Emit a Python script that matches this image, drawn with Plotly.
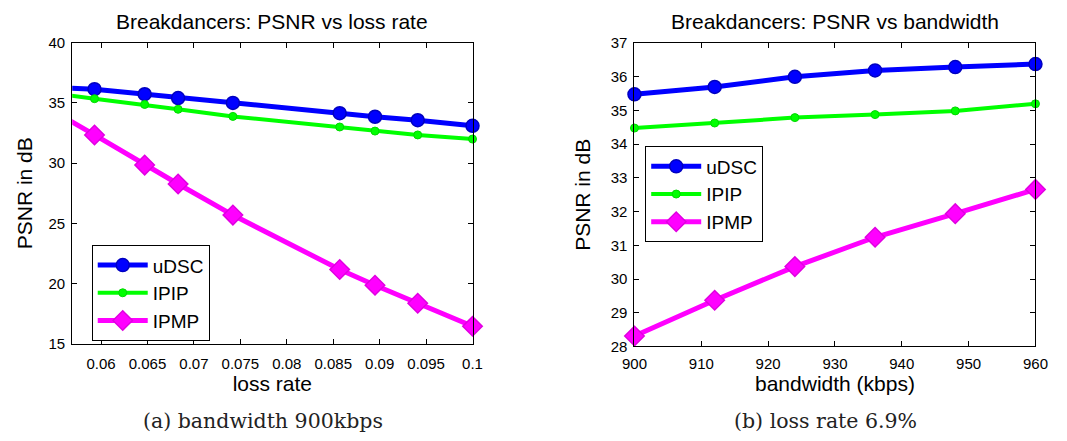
import plotly.graph_objects as go

# ---------------- data: (a) PSNR vs loss rate ----------------
loss_rate = [0.0593, 0.0647, 0.0683, 0.0742, 0.0857, 0.0895, 0.0941, 0.1]
udsc_loss = [36.14, 35.72, 35.40, 35.00, 34.15, 33.85, 33.56, 33.10]
ipip_loss = [35.35, 34.87, 34.47, 33.88, 33.00, 32.66, 32.34, 32.00]
ipmp_loss = [32.34, 29.84, 28.27, 25.69, 21.17, 19.86, 18.37, 16.46]
# a point just left of the visible x-range (the lines enter from the axis edge)
lead_rate = 0.0545
lead_udsc, lead_ipip, lead_ipmp = 36.29, 35.83, 34.5

loss_ticks = [0.06, 0.065, 0.07, 0.075, 0.08, 0.085, 0.09, 0.095, 0.1]
loss_tick_text = ["0.06", "0.065", "0.07", "0.075", "0.08", "0.085", "0.09", "0.095", "0.1"]
psnr_ticks_a = [15, 20, 25, 30, 35, 40]

# ---------------- data: (b) PSNR vs bandwidth ----------------
bandwidth = [900, 912, 924, 936, 948, 960]
udsc_bw = [35.48, 35.70, 36.00, 36.19, 36.29, 36.38]
ipip_bw = [34.48, 34.63, 34.79, 34.88, 34.99, 35.20]
ipmp_bw = [28.31, 29.37, 30.37, 31.24, 31.94, 32.66]

bw_ticks = [900, 910, 920, 930, 940, 950, 960]
psnr_ticks_b = [28, 29, 30, 31, 32, 33, 34, 35, 36, 37]

series_names = ["uDSC", "IPIP", "IPMP"]

# ---------------- styles ----------------
W, H = 1067, 441
FONT = "Liberation Sans, Arial, Helvetica, sans-serif"
BLUE, GREEN, MAGENTA = "#0000ff", "#00ff00", "#ff00ff"
styles = {
    "uDSC": dict(line=dict(color=BLUE, width=5),
                 marker=dict(symbol="circle", size=13, color=BLUE,
                             line=dict(color="#0000c0", width=1.5))),
    "IPIP": dict(line=dict(color=GREEN, width=4),
                 marker=dict(symbol="circle", size=8, color=GREEN,
                             line=dict(color="#00d800", width=1))),
    "IPMP": dict(line=dict(color=MAGENTA, width=5),
                 marker=dict(symbol="diamond", size=15, color=MAGENTA,
                             line=dict(color="#e000e0", width=1.5))),
}


def px_x(p):
    return p / W


def px_y(p):
    return 1 - p / H


fig = go.Figure()

# panel (a)
lead_vals = {"uDSC": lead_udsc, "IPIP": lead_ipip, "IPMP": lead_ipmp}
vals_a = {"uDSC": udsc_loss, "IPIP": ipip_loss, "IPMP": ipmp_loss}
for name in series_names:
    st = styles[name]
    fig.add_trace(go.Scatter(
        x=[lead_rate, loss_rate[0]], y=[lead_vals[name], vals_a[name][0]],
        mode="lines", line=st["line"], showlegend=False, hoverinfo="skip",
        xaxis="x", yaxis="y"))
for name in series_names:
    st = styles[name]
    fig.add_trace(go.Scatter(
        x=loss_rate, y=vals_a[name], name=name, mode="lines+markers",
        line=st["line"], marker=st["marker"], cliponaxis=False,
        xaxis="x", yaxis="y", legend="legend"))

# panel (b)
vals_b = {"uDSC": udsc_bw, "IPIP": ipip_bw, "IPMP": ipmp_bw}
for name in series_names:
    st = styles[name]
    fig.add_trace(go.Scatter(
        x=bandwidth, y=vals_b[name], name=name, mode="lines+markers",
        line=st["line"], marker=st["marker"], cliponaxis=False,
        xaxis="x2", yaxis="y2", legend="legend2"))

axis_common = dict(
    showline=True, linecolor="black", linewidth=1, mirror="ticks",
    ticks="inside", ticklen=5, tickwidth=1, tickcolor="black",
    showgrid=False, zeroline=False,
    tickfont=dict(family=FONT, size=15, color="black"),
    title=dict(font=dict(family=FONT, size=21, color="black")),
)

ax_a = (60.7, 471.0, 35.0, 348.3)
ax_b = (637.0, 1048.0, 35.5, 351.0)

legend_common = dict(xanchor="left", yanchor="top",
                     bgcolor="white", bordercolor="black", borderwidth=1,
                     font=dict(family=FONT, size=19, color="black"),
                     tracegroupgap=0, itemwidth=50)

fig.update_layout(
    width=W, height=H,
    margin=dict(l=0, r=0, t=0, b=0),
    paper_bgcolor="white", plot_bgcolor="white",
    xaxis=dict(axis_common, domain=[px_x(ax_a[0]), px_x(ax_a[1])],
               range=[0.0569, 0.1], tickvals=loss_ticks, ticktext=loss_tick_text,
               anchor="y", title_text="loss rate", title_standoff=5,
               ticklabelstandoff=6),
    yaxis=dict(axis_common, domain=[px_y(ax_a[3]), px_y(ax_a[2])],
               range=[15, 40], tickvals=psnr_ticks_a, anchor="x",
               title_text="PSNR in dB", title_standoff=10, ticklabelstandoff=3),
    xaxis2=dict(axis_common, domain=[px_x(ax_b[0]), px_x(ax_b[1])],
                range=[900, 960], tickvals=bw_ticks, anchor="y2",
                title_text="bandwidth (kbps)", title_standoff=0,
                ticklabelstandoff=4),
    yaxis2=dict(axis_common, domain=[px_y(ax_b[3]), px_y(ax_b[2])],
                range=[28, 37], tickvals=psnr_ticks_b, anchor="x2",
                title_text="PSNR in dB", title_standoff=14, ticklabelstandoff=3),
    legend=dict(legend_common, x=px_x(80.7), y=px_y(245.7)),
    legend2=dict(legend_common, x=px_x(648), y=px_y(143)),
    showlegend=True,
)

# panel titles
TITLE_FONT = dict(family=FONT, size=21, color="black")
fig.add_annotation(text="Breakdancers: PSNR vs loss rate", xref="paper", yref="paper",
                   x=px_x((ax_a[0] + ax_a[1]) / 2), y=px_y(13), xanchor="center",
                   yanchor="middle", showarrow=False, font=TITLE_FONT)
fig.add_annotation(text="Breakdancers: PSNR vs bandwidth", xref="paper", yref="paper",
                   x=px_x((ax_b[0] + ax_b[1]) / 2), y=px_y(13), xanchor="center",
                   yanchor="middle", showarrow=False, font=TITLE_FONT)

# sub-figure captions
CAP_FONT = dict(family="DejaVu Serif, serif", size=20.5, color="#222222")
fig.add_annotation(text="(a) bandwidth 900kbps", xref="paper", yref="paper",
                   x=px_x(256.5), y=px_y(429), xanchor="center", yanchor="middle",
                   showarrow=False, font=CAP_FONT)
fig.add_annotation(text="(b) loss rate 6.9%", xref="paper", yref="paper",
                   x=px_x(832.5), y=px_y(429), xanchor="center", yanchor="middle",
                   showarrow=False, font=CAP_FONT)

fig.write_html("out.html")
